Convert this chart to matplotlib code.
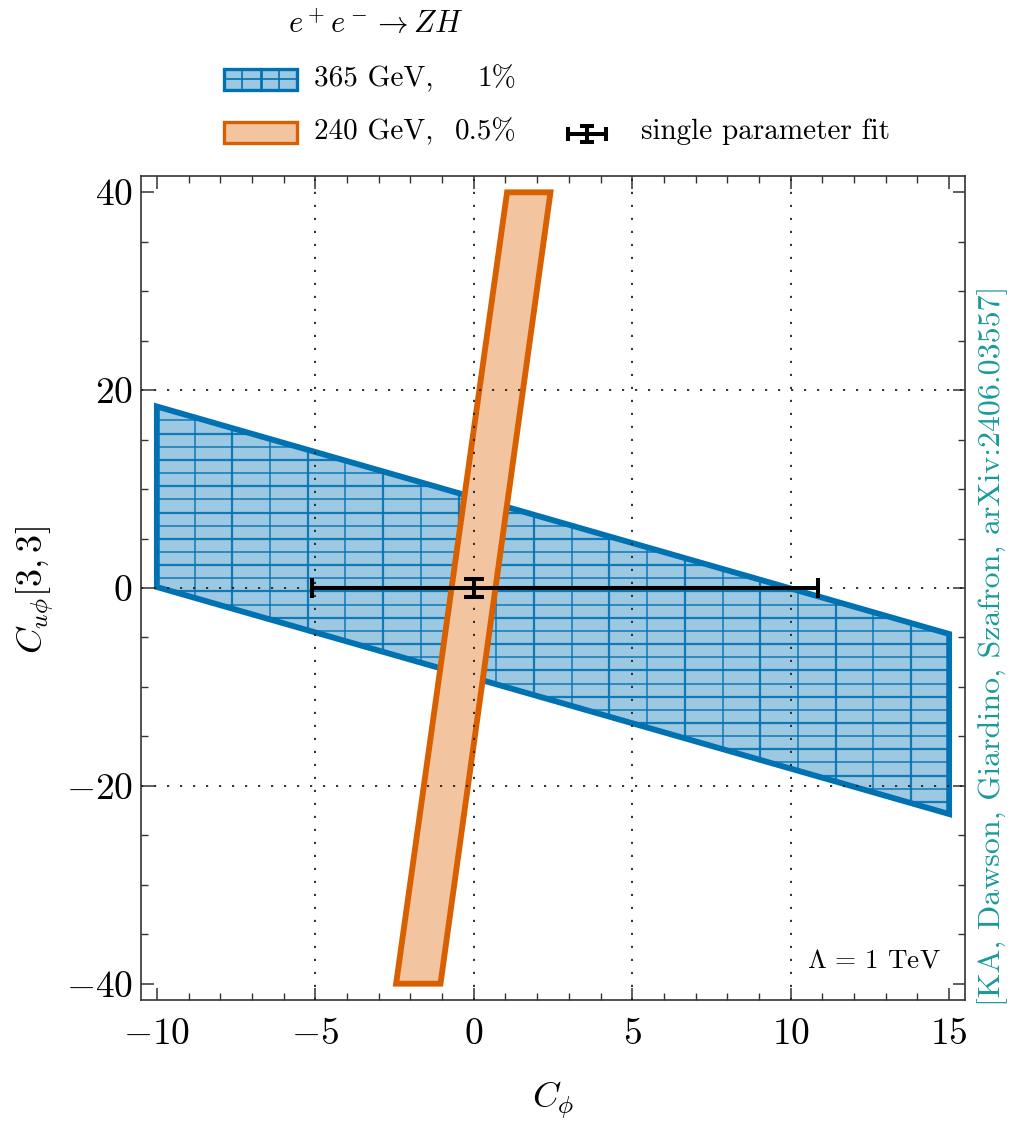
import numpy as np
import matplotlib
matplotlib.use('Agg')
import matplotlib.pyplot as plt
from matplotlib.patches import Polygon, Rectangle

plt.rcParams['font.family'] = ['cmr10', 'DejaVu Serif']
plt.rcParams['mathtext.fontset'] = 'cm'
plt.rcParams['axes.unicode_minus'] = False

# allowed regions (corners in the C_phi, C_uphi[3,3] plane)
region_365_x = [-10.0, 15.0, 15.0, -10.0]
region_365_y = [18.35, -4.65, -22.85, 0.1]
region_240_x = [-2.45, -1.05, 2.42, 1.05]
region_240_y = [-40.0, -40.0, 40.0, 40.0]

# single parameter fits
fit_x, fit_y = 0.0, 0.0
fit_xerr = [[5.1], [10.85]]
fit_yerr = 0.9

xticks = [-10, -5, 0, 5, 10, 15]
xticklabels = [r'$-10$', r'$-5$', r'$0$', r'$5$', r'$10$', r'$15$']
yticks = [-40, -20, 0, 20, 40]
yticklabels = [r'$-40$', r'$-20$', r'$0$', r'$20$', r'$40$']

blue_edge = '#0072B2'
blue_fill = '#9DC8E2'
orange_edge = '#D86000'
orange_fill = '#F2C4A0'
teal = '#1A9A9A'

W, H = 1022, 1121
fig = plt.figure(figsize=(W / 100, H / 100), dpi=100)
ax = fig.add_axes([141 / W, 1 - 1000 / H, 824 / W, 824 / H])

ax.set_xlim(-10.5, 15.5)
ax.set_ylim(-41.65, 41.65)

# 365 GeV band: fill, grid hatch clipped to it, then outline
blue_poly = Polygon(np.column_stack([region_365_x, region_365_y]), closed=True,
                    facecolor=blue_fill, edgecolor='none', zorder=1)
ax.add_patch(blue_poly)
for k, xv in enumerate(np.arange(-8.81, 15.0, 1.19)):
    ln, = ax.plot([xv, xv], [-45, 45], color=blue_edge, lw=1.6 if k % 2 else 1.1,
                  alpha=0.9, zorder=1.5)
    ln.set_clip_path(blue_poly)
for k, yv in enumerate(np.arange(0.98 - 1.33 * 20, 20.0, 1.33)):
    ln, = ax.plot([-11, 16], [yv, yv], color=blue_edge, lw=1.6 if k % 2 else 1.1,
                  alpha=0.9, zorder=1.5)
    ln.set_clip_path(blue_poly)
ax.add_patch(Polygon(np.column_stack([region_365_x, region_365_y]), closed=True,
                     facecolor='none', edgecolor=blue_edge, lw=4.2,
                     joinstyle='miter', zorder=2))

# 240 GeV band
ax.add_patch(Polygon(np.column_stack([region_240_x, region_240_y]), closed=True,
                     facecolor=orange_fill, edgecolor=orange_edge, lw=4.2,
                     joinstyle='miter', zorder=3))

# dotted grid over the bands
for xv in [-5, 0, 5, 10]:
    ax.axvline(xv, color='#222222', lw=1.3, ls=(0, (1.2, 6)), zorder=4)
for yv in [-20, 0, 20]:
    ax.axhline(yv, color='#222222', lw=1.3, ls=(0, (1.2, 6)), zorder=4)

ax.errorbar(fit_x, fit_y, xerr=fit_xerr, yerr=fit_yerr, fmt='none', ecolor='black',
            elinewidth=2.9, capsize=7.5, capthick=2.9, zorder=6)

ax.set_xticks(xticks)
ax.set_xticklabels(xticklabels)
ax.set_yticks(yticks)
ax.set_yticklabels(yticklabels)
ax.set_xticks(np.arange(-10, 16, 1), minor=True)
ax.set_yticks(np.arange(-40, 41, 5), minor=True)
ax.tick_params(which='both', direction='in', top=True, right=True, color='#333333',
               labelsize=27)
ax.tick_params(axis='x', which='major', pad=13)
ax.tick_params(axis='y', which='major', pad=6)
ax.tick_params(which='major', length=9, width=1.1)
ax.tick_params(which='minor', length=5, width=1.0)
for sp in ax.spines.values():
    sp.set_color('#333333')
    sp.set_linewidth(1.2)

# axis titles
fig.text(553 / W, 1 - 1100 / H, r'$C_\phi$', fontsize=26, ha='center', va='center')
fig.text(35 / W, 1 - 590 / H, r'$C_{u\phi}[3,3]$', fontsize=26, rotation=90,
         ha='center', va='center')

ax.text(0.97, 0.048, r'$\Lambda$ = 1 TeV', transform=ax.transAxes, ha='right',
        va='center', fontsize=19.5, zorder=7)

fig.text(993 / W, 1 - 646 / H, '[KA, Dawson, Giardino, Szafron, arXiv:2406.03557]',
         rotation=90, ha='center', va='center', color=teal, fontsize=23)

# legend block above the frame, laid out in pixel units
lg = fig.add_axes([0, 1 - 176 / H, 1, 176 / H])
lg.set_xlim(0, W)
lg.set_ylim(176, 0)
lg.axis('off')

lg.text(288, 24, r'$e^+e^- \to ZH$', fontsize=22, ha='left', va='center')

row1, row2 = 79, 132
lg.add_patch(Rectangle((224, row1 - 10.5), 73, 21, facecolor=blue_fill, edgecolor='none'))
for k, xv in enumerate([242, 260.5, 279]):
    lg.plot([xv, xv], [row1 - 10.5, row1 + 10.5], color=blue_edge,
            lw=2.0 if k == 1 else 1.2)
lg.plot([224, 297], [row1, row1], color=blue_edge, lw=1.2)
lg.add_patch(Rectangle((224, row1 - 10.5), 73, 21, facecolor='none', edgecolor=blue_edge,
                       lw=2.4, joinstyle='miter'))
lg.text(314, row1, '365 GeV,', fontsize=21, ha='left', va='center')
lg.text(516, row1, '1%', fontsize=21, ha='right', va='center')

lg.add_patch(Rectangle((224, row2 - 10.5), 73, 21, facecolor=orange_fill,
                       edgecolor=orange_edge, lw=2.4, joinstyle='miter'))
lg.text(314, row2, '240 GeV,', fontsize=21, ha='left', va='center')
lg.text(516, row2, '0.5%', fontsize=21, ha='right', va='center')

lg.errorbar(587, 134, xerr=19, yerr=8, fmt='none', ecolor='black', elinewidth=2.9,
            capsize=5, capthick=2.9)
lg.text(641, row2, 'single parameter fit', fontsize=21, ha='left', va='center')

fig.savefig('out.png', dpi=100)
